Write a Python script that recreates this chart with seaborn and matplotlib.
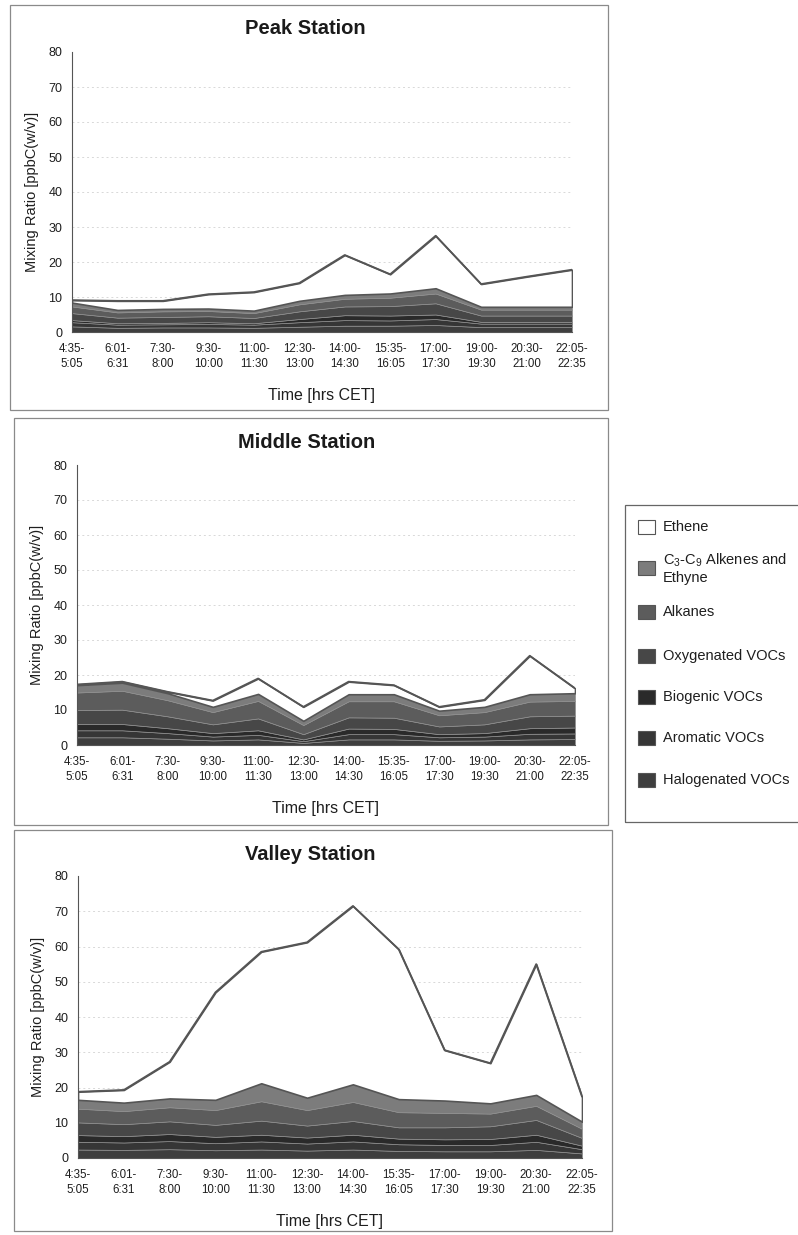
import numpy as np
import pandas as pd
import matplotlib
matplotlib.use("Agg")
import matplotlib.pyplot as plt
from matplotlib.patches import Rectangle
import seaborn as sns

# ---- data -------------------------------------------------------------
time_labels = ["4:35-\n5:05", "6:01-\n6:31", "7:30-\n8:00", "9:30-\n10:00",
               "11:00-\n11:30", "12:30-\n13:00", "14:00-\n14:30", "15:35-\n16:05",
               "17:00-\n17:30", "19:00-\n19:30", "20:30-\n21:00", "22:05-\n22:35"]

# species, stacked bottom -> top
species = ["Halogenated VOCs", "Aromatic VOCs", "Biogenic VOCs", "Oxygenated VOCs",
           "Alkanes", "C$_3$-C$_9$ Alkenes and\nEthyne", "Ethene"]

peak_halogenated = [1.6, 1.2, 1.3, 1.3, 1.2, 1.5, 1.8, 1.8, 2.0, 1.4, 1.4, 1.4]
peak_aromatic    = [1.2, 0.9, 0.9, 1.0, 0.9, 1.3, 1.6, 1.5, 1.7, 1.0, 1.0, 1.0]
peak_biogenic    = [0.6, 0.4, 0.4, 0.5, 0.4, 0.9, 1.4, 1.4, 1.3, 0.5, 0.5, 0.5]
peak_oxygenated  = [2.0, 1.6, 1.7, 1.7, 1.5, 2.2, 2.5, 2.7, 3.2, 1.8, 1.8, 1.8]
peak_alkanes     = [1.9, 1.5, 1.6, 1.5, 1.4, 2.0, 2.2, 2.4, 2.8, 1.7, 1.7, 1.7]
peak_alkenes     = [1.1, 0.7, 0.7, 0.7, 0.7, 1.0, 1.1, 1.2, 1.5, 0.8, 0.8, 0.8]
peak_ethene      = [0.7, 2.6, 2.3, 4.1, 5.3, 5.1, 11.4, 5.5, 15.0, 6.5, 8.6, 10.6]

middle_halogenated = [2.2, 2.2, 1.8, 1.3, 1.6, 0.6, 1.6, 1.6, 1.2, 1.3, 1.6, 1.7]
middle_aromatic    = [2.0, 2.0, 1.6, 1.1, 1.3, 0.5, 1.5, 1.5, 1.0, 1.1, 1.6, 1.6]
middle_biogenic    = [1.8, 1.8, 1.4, 1.0, 1.3, 0.5, 1.6, 1.5, 0.9, 1.0, 1.6, 1.7]
middle_oxygenated  = [4.0, 4.1, 3.4, 2.5, 3.4, 1.5, 3.2, 3.2, 2.2, 2.5, 3.4, 3.4]
middle_alkanes     = [5.0, 5.4, 4.6, 3.5, 5.0, 2.6, 4.6, 4.7, 3.2, 3.5, 4.2, 4.2]
middle_alkenes     = [2.1, 2.3, 2.0, 1.5, 2.0, 1.2, 2.0, 2.0, 1.3, 1.5, 2.1, 2.2]
middle_ethene      = [0.2, 0.3, 0.4, 1.8, 4.4, 4.0, 3.6, 2.6, 1.1, 2.0, 11.0, 1.4]

valley_halogenated = [2.4, 2.3, 2.5, 2.2, 2.4, 2.1, 2.4, 2.0, 1.9, 1.9, 2.3, 1.3]
valley_aromatic    = [2.2, 2.1, 2.3, 2.0, 2.3, 2.0, 2.3, 1.9, 1.8, 1.8, 2.3, 1.2]
valley_biogenic    = [1.9, 1.8, 2.0, 1.8, 1.9, 1.7, 1.9, 1.6, 1.6, 1.7, 2.0, 1.0]
valley_oxygenated  = [3.6, 3.4, 3.6, 3.4, 4.0, 3.4, 3.9, 3.2, 3.4, 3.6, 4.2, 2.2]
valley_alkanes     = [3.9, 3.7, 4.0, 4.2, 5.5, 4.4, 5.4, 4.3, 4.1, 3.6, 4.0, 2.6]
valley_alkenes     = [2.5, 2.4, 2.5, 2.9, 5.1, 3.5, 5.0, 3.7, 3.5, 2.9, 3.1, 2.0]
valley_ethene      = [2.3, 3.6, 10.4, 30.5, 37.3, 44.1, 50.6, 42.5, 14.3, 11.4, 37.1, 7.1]

stations = {
    "Peak Station": [peak_halogenated, peak_aromatic, peak_biogenic, peak_oxygenated,
                     peak_alkanes, peak_alkenes, peak_ethene],
    "Middle Station": [middle_halogenated, middle_aromatic, middle_biogenic, middle_oxygenated,
                       middle_alkanes, middle_alkenes, middle_ethene],
    "Valley Station": [valley_halogenated, valley_aromatic, valley_biogenic, valley_oxygenated,
                       valley_alkanes, valley_alkenes, valley_ethene],
}

y_ticks = [0, 10, 20, 30, 40, 50, 60, 70, 80]

# ---- style ------------------------------------------------------------
colors = ["#3e3e3e", "#363636", "#2a2a2a", "#474747", "#5c5c5c", "#7c7c7c", "#ffffff"]

sns.set_theme(style="white")
plt.rcParams["font.family"] = ["Liberation Sans", "DejaVu Sans"]
plt.rcParams["mathtext.fontset"] = "custom"
plt.rcParams["mathtext.rm"] = "Liberation Sans"
plt.rcParams["mathtext.it"] = "Liberation Sans"

W, H = 798, 1235
fig = plt.figure(figsize=(W / 100, H / 100), dpi=100)
fig.patch.set_facecolor("white")


def frac_rect(x0, y0, x1, y1):
    return [x0 / W, 1 - y1 / H, (x1 - x0) / W, (y1 - y0) / H]


# pixel layout of each panel: axes box, frame box, title centre
layout = {
    "Peak Station":   dict(ax=(72, 52, 572, 332),  frame=(10, 5, 608, 410),   title=(305, 28)),
    "Middle Station": dict(ax=(77, 465, 575, 745), frame=(14, 418, 608, 825), title=(307, 442)),
    "Valley Station": dict(ax=(78, 876, 582, 1158), frame=(14, 830, 612, 1231), title=(310, 855)),
}

x = np.arange(len(time_labels))

for name, layers in stations.items():
    lay = layout[name]
    ax = fig.add_axes(frac_rect(*lay["ax"]))
    ax.set_facecolor("white")

    for yv in y_ticks[1:-1]:
        ax.axhline(yv, color="#d8d8d8", lw=0.7, ls=(0, (2, 3)), zorder=0)

    polys = ax.stackplot(x, *layers, colors=colors, zorder=2)
    for p in polys[:-1]:
        p.set_edgecolor("#8f8f8f")
        p.set_linewidth(0.5)
    polys[-1].set_edgecolor("#555555")
    polys[-1].set_linewidth(1.2)

    total = np.sum(np.array(layers), axis=0)
    sns.lineplot(x=x, y=total, ax=ax, color="#555555", lw=1.3, zorder=3)

    ax.set_xlim(0, len(time_labels) - 1)
    ax.set_ylim(0, 80)
    ax.set_yticks(y_ticks)
    ax.set_yticklabels([str(v) for v in y_ticks], fontsize=9)
    ax.set_xticks(x)
    ax.set_xticklabels(time_labels, fontsize=8.3, linespacing=1.3)
    ax.tick_params(axis="both", which="both", direction="out", length=4, width=0.7,
                   color="#555555", pad=3, labelcolor="#1e1e1e")
    ax.tick_params(axis="x", pad=4)

    for s in ["top", "right"]:
        ax.spines[s].set_visible(False)
    for s in ["left", "bottom"]:
        ax.spines[s].set_color("#555555")
        ax.spines[s].set_linewidth(0.8)

    ax.set_ylabel("Mixing Ratio [ppbC(w/v)]", fontsize=10.5, color="#1e1e1e")
    ax.yaxis.set_label_coords(-0.066, 0.5)
    ax.set_xlabel("Time [hrs CET]", fontsize=11.5, color="#1e1e1e")
    ax.xaxis.set_label_coords(0.5, -0.2)

    tx, ty = lay["title"]
    fig.text(tx / W, 1 - ty / H, name, fontsize=14.5, fontweight="bold",
             ha="center", va="center", color="#1a1a1a")

    fx0, fy0, fx1, fy1 = lay["frame"]
    fig.patches.append(Rectangle((fx0 / W, 1 - fy1 / H), (fx1 - fx0) / W, (fy1 - fy0) / H,
                                 transform=fig.transFigure, fill=False,
                                 edgecolor="#8a8a8a", lw=0.9))

# ---- legend (top entry first) -----------------------------------------
fig.patches.append(Rectangle((625 / W, 1 - 822 / H), 190 / W, 317 / H,
                             transform=fig.transFigure, fill=False,
                             edgecolor="#666666", lw=0.9))
entry_y = [527, 568, 612, 656, 697, 738, 780]
for yc, label, col in zip(entry_y, species[::-1], colors[::-1]):
    fig.patches.append(Rectangle((638 / W, 1 - (yc + 7) / H), 17 / W, 14 / H,
                                 transform=fig.transFigure, facecolor=col,
                                 edgecolor="#555555", lw=0.8))
    fig.text(663 / W, 1 - yc / H, label, fontsize=10.5, ha="left", va="center",
             color="#1e1e1e", linespacing=1.2)

fig.savefig("out.png", dpi=100, facecolor="white")
